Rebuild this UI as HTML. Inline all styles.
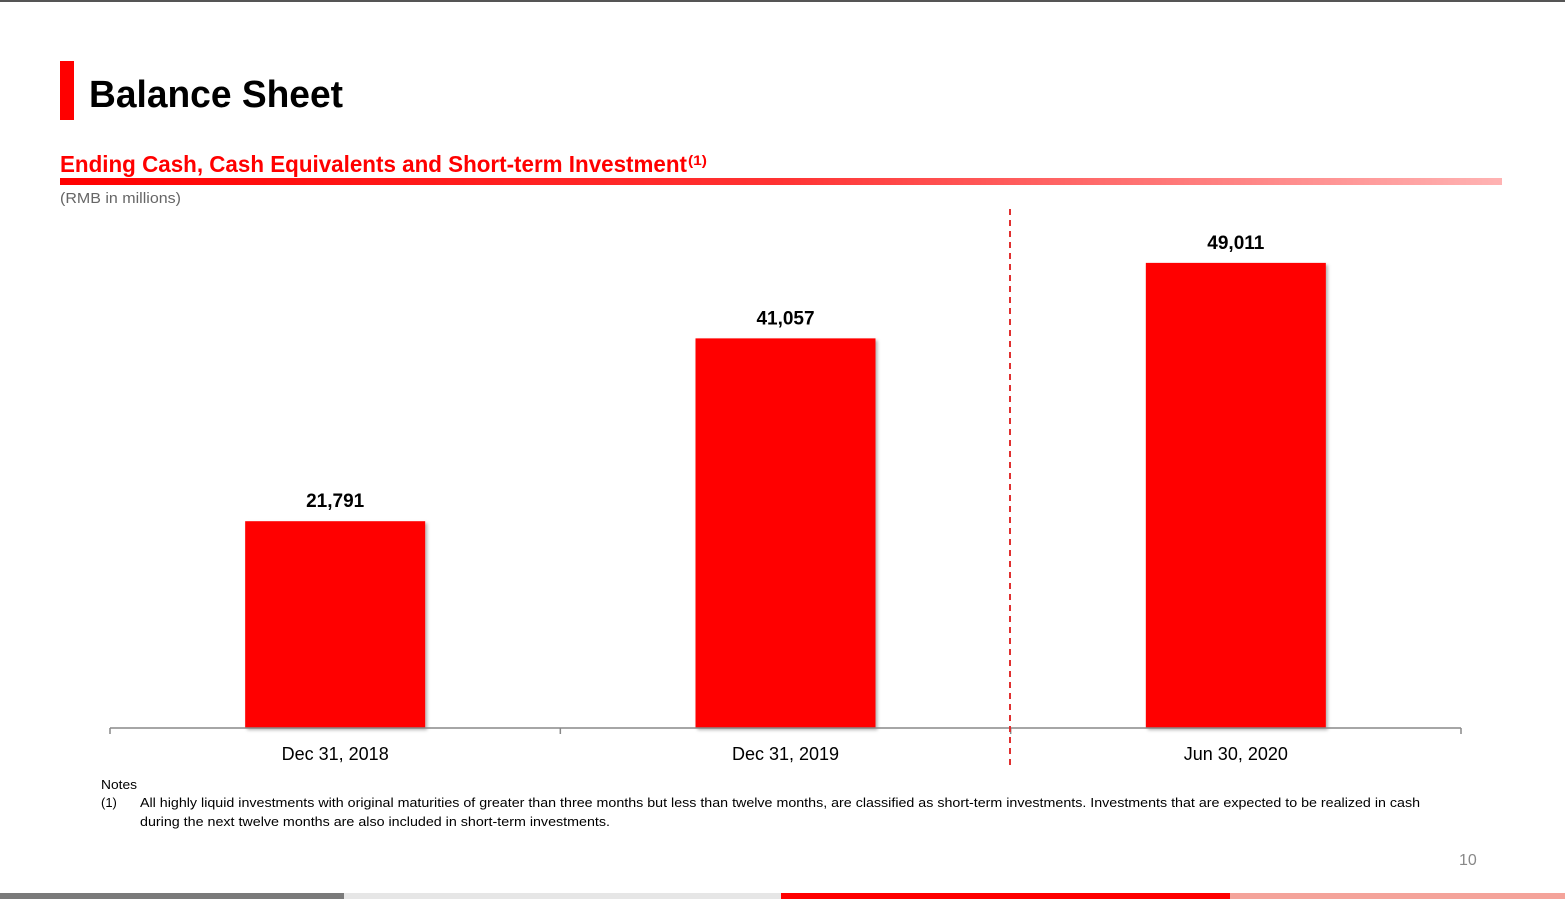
<!DOCTYPE html>
<html><head><meta charset="utf-8"><style>
html,body{margin:0;padding:0;background:#fff;}
svg{display:block;font-family:"Liberation Sans",sans-serif;}
</style></head><body>
<svg width="1565" height="899" viewBox="0 0 1565 899">
<defs>
<linearGradient id="rg" x1="0" x2="1" y1="0" y2="0">
<stop offset="0" stop-color="#ff0000"/><stop offset="0.5" stop-color="#ff3333"/><stop offset="1" stop-color="#ffb3b3"/>
</linearGradient>
<filter id="sh" x="-5%" y="-5%" width="115%" height="115%"><feDropShadow dx="2" dy="2" stdDeviation="1.5" flood-color="#000" flood-opacity="0.3"/></filter>
</defs>
<rect x="0" y="0" width="1565" height="2" fill="#555"/>
<rect x="60" y="61" width="14" height="59" fill="#ff0000"/>
<text x="89" y="107" font-size="38" font-weight="bold" fill="#000" textLength="254" lengthAdjust="spacingAndGlyphs">Balance Sheet</text>
<text x="60" y="172" font-size="23" font-weight="bold" fill="#ff0000" textLength="627" lengthAdjust="spacingAndGlyphs">Ending Cash, Cash Equivalents and Short-term Investment</text>
<text x="688" y="165" font-size="14" font-weight="bold" fill="#ff0000" textLength="19" lengthAdjust="spacingAndGlyphs">(1)</text>
<rect x="60" y="178" width="1442" height="7" fill="url(#rg)"/>
<text x="60" y="203" font-size="15" fill="#666" textLength="121" lengthAdjust="spacingAndGlyphs">(RMB in millions)</text>
<g id="chart"></g>
<line x1="1010" y1="209" x2="1010" y2="768" stroke="#e03030" stroke-width="2" stroke-dasharray="6,5"/>
<text x="101" y="789" font-size="13" fill="#000" textLength="36" lengthAdjust="spacingAndGlyphs">Notes</text>
<text x="101" y="807" font-size="13" fill="#000">(1)</text>
<text x="140" y="807" font-size="13" fill="#000" textLength="1280" lengthAdjust="spacingAndGlyphs">All highly liquid investments with original maturities of greater than three months but less than twelve months, are classified as short-term investments. Investments that are expected to be realized in cash</text>
<text x="140" y="826" font-size="13" fill="#000" textLength="470" lengthAdjust="spacingAndGlyphs">during the next twelve months are also included in short-term investments.</text>
<text x="1459" y="865" font-size="16" fill="#888">10</text>
<rect x="0" y="893" width="344" height="6" fill="#7a7a7a"/>
<rect x="344" y="893" width="437" height="6" fill="#e6e6e6"/>
<rect x="781" y="893" width="449" height="6" fill="#ff0000"/>
<rect x="1230" y="893" width="335" height="6" fill="#f4a39a"/>
</svg>
<script>
const categories = ["Dec 31, 2018", "Dec 31, 2019", "Jun 30, 2020"];
const values = [21791, 41057, 49011];
const valueLabels = ["21,791", "41,057", "49,011"];
const NS = "http://www.w3.org/2000/svg";
const g = document.getElementById("chart");
const x0 = 110, x1 = 1461, baseY = 728, scale = 0.00949;
const band = (x1 - x0) / categories.length;
function xCenter(i){ return x0 + band * (i + 0.5); }
function yPos(v){ return baseY - v * scale; }
function mk(tag, attrs){ const e = document.createElementNS(NS, tag); for (const k in attrs) e.setAttribute(k, attrs[k]); return e; }
categories.forEach((c, i) => {
  const cx = xCenter(i), y = yPos(values[i]);
  const bar = mk("rect", {x: cx - 90, y: y, width: 180, height: baseY - y, fill: "#ff0000", filter: "url(#sh)"});
  
  
  g.appendChild(bar);
  const vl = mk("text", {x: cx, y: y - 14, "text-anchor": "middle", "font-size": "19", "font-weight": "bold", fill: "#000"});
  vl.textContent = valueLabels[i];
  
  
  g.appendChild(vl);
  const cl = mk("text", {x: cx, y: 760, "text-anchor": "middle", "font-size": "18", fill: "#000"});
  cl.textContent = c;
  
  
  g.appendChild(cl);
});
const axis = mk("line", {x1: x0, y1: baseY, x2: x1, y2: baseY, stroke: "#888", "stroke-width": 1.5});


g.appendChild(axis);
for (let i = 0; i <= categories.length; i++) {
  const tx = x0 + band * i;
  const t = mk("line", {x1: tx, y1: baseY, x2: tx, y2: baseY + 6, stroke: "#888", "stroke-width": 1.5});
  
  
  g.appendChild(t);
}
</script>
</body></html>
